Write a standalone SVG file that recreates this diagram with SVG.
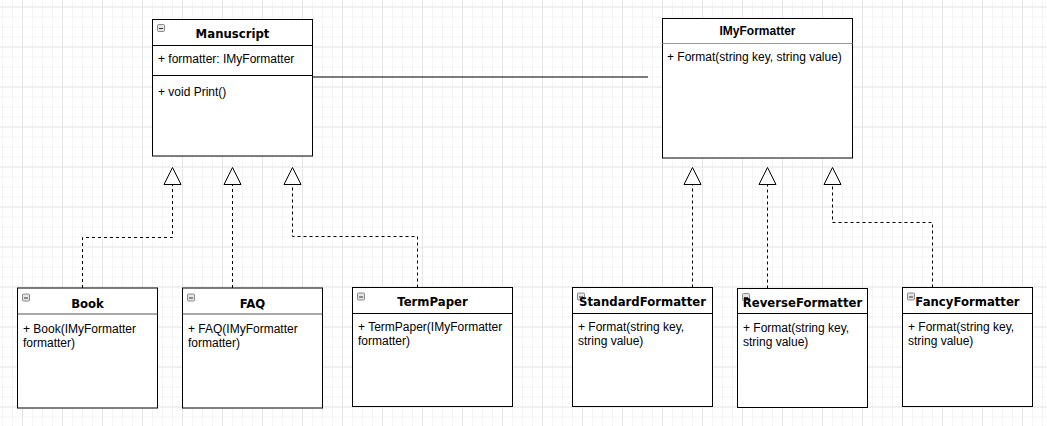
<svg xmlns="http://www.w3.org/2000/svg" width="1047" height="426" viewBox="0 0 1047 426">
<style>
.box{fill:#fff;stroke:#000;stroke-width:1}
.sep{stroke:#000;stroke-width:1;fill:none}
.title{font-family:"DejaVu Sans",Verdana,sans-serif;font-weight:bold;font-size:11.7px;fill:#000;text-anchor:middle}
.ititle{font-family:"Liberation Sans",Arial,sans-serif;font-weight:bold;font-size:12px;fill:#000;text-anchor:middle}
.body{font-family:"Liberation Sans",Arial,sans-serif;font-size:12px;fill:#000}
.icon{fill:#e4e4e4;stroke:#8a8a8a;stroke-width:1}
.iconbar{stroke:#333;stroke-width:1}
.dash{fill:none;stroke:#000;stroke-width:1;stroke-dasharray:3 3}
.tri{fill:#fff;stroke:#000;stroke-width:1}
</style>
<defs>
<pattern id="minor" width="10" height="10" patternUnits="userSpaceOnUse" x="2" y="6.5">
<path d="M0 0.5H10M0.5 0V10" stroke="#f4f4f4" stroke-width="1" fill="none"/>
</pattern>
<pattern id="major" width="40" height="40" patternUnits="userSpaceOnUse" x="22" y="6.5">
<path d="M0 0.5H40M0.5 0V40" stroke="#e6e6e6" stroke-width="1" fill="none"/>
</pattern>
<g id="ic">
<rect class="icon" x="0.5" y="0.5" width="7" height="7" rx="1"/>
<line class="iconbar" x1="2" y1="4.5" x2="6" y2="4.5"/>
</g>
</defs>
<rect width="1047" height="426" fill="#fff"/>
<rect width="1047" height="426" fill="url(#minor)"/>
<rect width="1047" height="426" fill="url(#major)"/>

<g id="connectors">
<line x1="312.5" y1="77" x2="648" y2="77" stroke="#000" stroke-width="1"/>
<path class="dash" d="M82.5 288V237.5H172.5V184.5"/>
<path class="dash" d="M232.5 288V184.5"/>
<path class="dash" d="M417.5 287.5V236.5H292.5V184.5"/>
<path class="dash" d="M692.5 287.5V184.5"/>
<path class="dash" d="M767.5 288.5V184.5"/>
<path class="dash" d="M932.5 287.5V222.5H832.5V184.5"/>
<polygon class="tri" points="172.5,167.5 164,184.5 181,184.5"/>
<polygon class="tri" points="232.5,167.5 224,184.5 241,184.5"/>
<polygon class="tri" points="292.5,167.5 284,184.5 301,184.5"/>
<polygon class="tri" points="692.5,167.5 684,184.5 701,184.5"/>
<polygon class="tri" points="767.5,167.5 759,184.5 776,184.5"/>
<polygon class="tri" points="832.5,167.5 824,184.5 841,184.5"/>
</g>

<g id="manuscript">
<rect class="box" x="152.5" y="19.5" width="160" height="136.5"/>
<line class="sep" x1="152.5" y1="45.5" x2="312.5" y2="45.5"/>
<line class="sep" x1="152.5" y1="75.5" x2="312.5" y2="75.5"/>
<use href="#ic" x="157" y="24"/>
<text class="title" x="232.5" y="37.5">Manuscript</text>
<text class="body" x="158" y="63">+ formatter: IMyFormatter</text>
<text class="body" x="158" y="96">+ void Print()</text>
</g>

<g id="imyformatter">
<rect class="box" x="662.5" y="18.5" width="190" height="139.5"/>
<line x1="662.5" y1="43.5" x2="852.5" y2="43.5" stroke="#999" stroke-width="1"/>
<text class="ititle" x="757.5" y="34.5">IMyFormatter</text>
<text class="body" x="667" y="60.5">+ Format(string key, string value)</text>
</g>

<g id="book">
<rect class="box" x="17.5" y="288" width="140" height="120" stroke="#333"/>
<line x1="17.5" y1="314" x2="157.5" y2="314" stroke="#555" stroke-width="1"/>
<use href="#ic" x="22" y="293.5"/>
<text class="title" x="87.5" y="307.5">Book</text>
<text class="body" x="23" y="333">+ Book(IMyFormatter</text>
<text class="body" x="23" y="347">formatter)</text>
</g>

<g id="faq">
<rect class="box" x="182.5" y="288" width="140" height="120" stroke="#333"/>
<line x1="182.5" y1="314" x2="322.5" y2="314" stroke="#555" stroke-width="1"/>
<use href="#ic" x="187" y="293.5"/>
<text class="title" x="252.5" y="307.5">FAQ</text>
<text class="body" x="188" y="333">+ FAQ(IMyFormatter</text>
<text class="body" x="188" y="347">formatter)</text>
</g>

<g id="termpaper">
<rect class="box" x="352.5" y="287.5" width="160" height="119"/>
<line class="sep" x1="352.5" y1="313.5" x2="512.5" y2="313.5"/>
<use href="#ic" x="357" y="292.5"/>
<text class="title" x="432.5" y="306">TermPaper</text>
<text class="body" x="358" y="331">+ TermPaper(IMyFormatter</text>
<text class="body" x="358" y="345">formatter)</text>
</g>

<g id="standardformatter">
<rect class="box" x="572.5" y="287.5" width="140" height="119"/>
<line class="sep" x1="572.5" y1="313.5" x2="712.5" y2="313.5"/>
<use href="#ic" x="577" y="292.5"/>
<text class="title" x="642.5" y="306">StandardFormatter</text>
<text class="body" x="578" y="331">+ Format(string key,</text>
<text class="body" x="578" y="345">string value)</text>
</g>

<g id="reverseformatter">
<rect class="box" x="737.5" y="288.5" width="130" height="119"/>
<line class="sep" x1="737.5" y1="313.5" x2="867.5" y2="313.5"/>
<use href="#ic" x="742" y="293"/>
<text class="title" x="802.5" y="306.5">ReverseFormatter</text>
<text class="body" x="743" y="331.5">+ Format(string key,</text>
<text class="body" x="743" y="345.5">string value)</text>
</g>

<g id="fancyformatter">
<rect class="box" x="902.5" y="287.5" width="130" height="119"/>
<line class="sep" x1="902.5" y1="313.5" x2="1032.5" y2="313.5"/>
<use href="#ic" x="907" y="292.5"/>
<text class="title" x="967.5" y="306">FancyFormatter</text>
<text class="body" x="908" y="331">+ Format(string key,</text>
<text class="body" x="908" y="345">string value)</text>
</g>
</svg>
